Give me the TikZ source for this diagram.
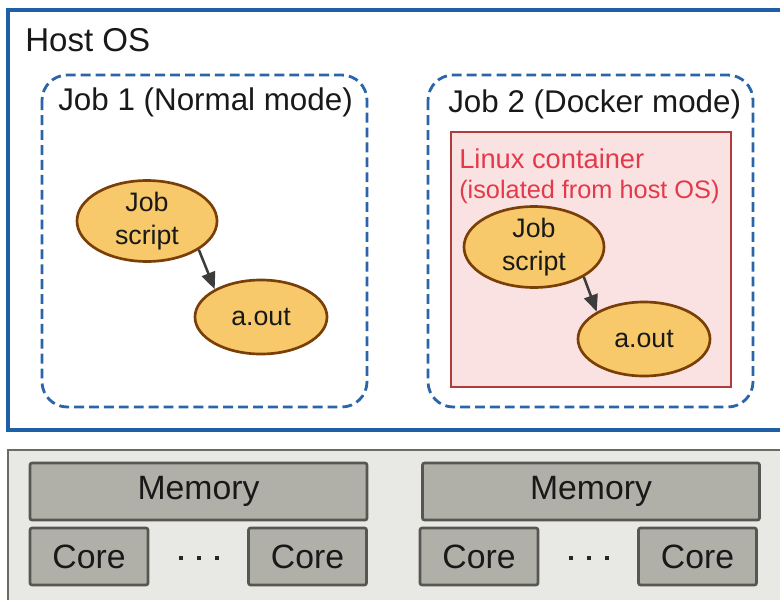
\documentclass[tikz,border=0pt]{standalone}
\usepackage{fontspec}
\setmainfont{Liberation Sans}
\usetikzlibrary{
	arrows.meta,
	shapes.geometric,
	positioning
}
\definecolor{hostblue}{HTML}{1F5FA6}
\definecolor{dashblue}{HTML}{2B65A9}
\definecolor{cfill}{HTML}{FBE2E2}
\definecolor{cborder}{HTML}{B03C3C}
\definecolor{ctext}{HTML}{E23A4A}
\definecolor{efill}{HTML}{F7C96B}
\definecolor{eborder}{HTML}{7A3F06}
\definecolor{hwfill}{HTML}{E8E8E5}
\definecolor{hwborder}{HTML}{6B6B66}
\definecolor{memfill}{HTML}{B1B0A8}
\definecolor{memborder}{HTML}{575752}
\definecolor{arrowgrey}{HTML}{3C3C3C}

\begin{document}
\begin{tikzpicture}[x=0.025cm, y=-0.025cm,
    proc/.style={ellipse, draw=eborder, fill=efill, line width=1.9pt, inner sep=0pt, align=center, text=black!90, font=\fontsize{19}{23}\selectfont},
    hwunit/.style={draw=memborder, fill=memfill, line width=1.9pt, rounded corners=1.5pt, inner sep=0pt, minimum height=1.425cm, text=black!90, font=\fontsize{24}{28}\selectfont},
    jobbox/.style={draw=dashblue, line width=2pt, dash pattern=on 7pt off 3.6pt, rounded corners=18pt},
    boxlabel/.style={anchor=west, inner sep=0pt, text=black!90, font=\fontsize{22.3}{26}\selectfont},
    runs/.style={draw=arrowgrey, line width=1.8pt, -{Triangle[length=12pt,width=10pt]}}
  ]
    % Page
    \clip (0,0) rectangle (780,599);
    \fill[white] (0,0) rectangle (780,599);
    % Host OS
    \draw[hostblue, line width=2.2pt] (8,10) rectangle (800,430);
    \node[boxlabel, font=\fontsize{23.5}{28}\selectfont] (hostlbl) at (25,40) {Host OS};
    % Jobs
    \draw[jobbox] (42,75)  rectangle (367,407);
    \draw[jobbox] (428,75) rectangle (753,407);
    \node[boxlabel] (job1lbl) at (58,102)  {Job 1 (Normal mode)};
    \node[boxlabel] (job2lbl) at (448,104) {Job 2 (Docker mode)};
    % Linux container
    \draw[draw=cborder, fill=cfill, line width=2pt] (451,132) rectangle (731,387);
    \node[anchor=north west, inner sep=0pt, align=left, text=ctext, font=\fontsize{19.4}{21.3}\selectfont] (ctnlbl) at (459,148)
        {Linux container\\{\fontsize{18}{21.3}\selectfont (isolated from host OS)}};
    % Processes
    \node[proc, minimum width=3.5cm, minimum height=2cm]    (js1) at (147,221) {Job\\script};
    \node[proc, minimum width=3.3cm, minimum height=1.85cm] (ao1) at (261,317) {a.out};
    \node[proc, minimum width=3.5cm, minimum height=2cm]    (js2) at (534,247) {Job\\script};
    \node[proc, minimum width=3.3cm, minimum height=1.85cm] (ao2) at (644,339) {a.out};
    \draw[runs] (js1.-29) -- (ao1.149);
    \draw[runs] (js2.-31) -- (ao2.150);
    % Hardware
    \draw[draw=hwborder, fill=hwfill, line width=1.6pt] (8,450) rectangle (800,620);
    \node[hwunit, minimum width=8.425cm] (mem1)  at (198.5,491.5) {Memory};
    \node[hwunit, minimum width=2.95cm]  (core1) at (89,556.5)    {Core};
    \node[hwunit, minimum width=2.95cm]  (core2) at (307.5,556.5) {Core};
    \node[hwunit, minimum width=8.425cm] (mem2)  at (591,491.5)   {Memory};
    \node[hwunit, minimum width=2.95cm]  (core3) at (479,556.5)   {Core};
    \node[hwunit, minimum width=2.95cm]  (core4) at (697.5,556.5) {Core};
    % Dots between cores
    \foreach \dx in {181,199,217, 571,589,607}
        \fill[black!85] (\dx-2,556) rectangle ++(4,4);
\end{tikzpicture}
\end{document}
